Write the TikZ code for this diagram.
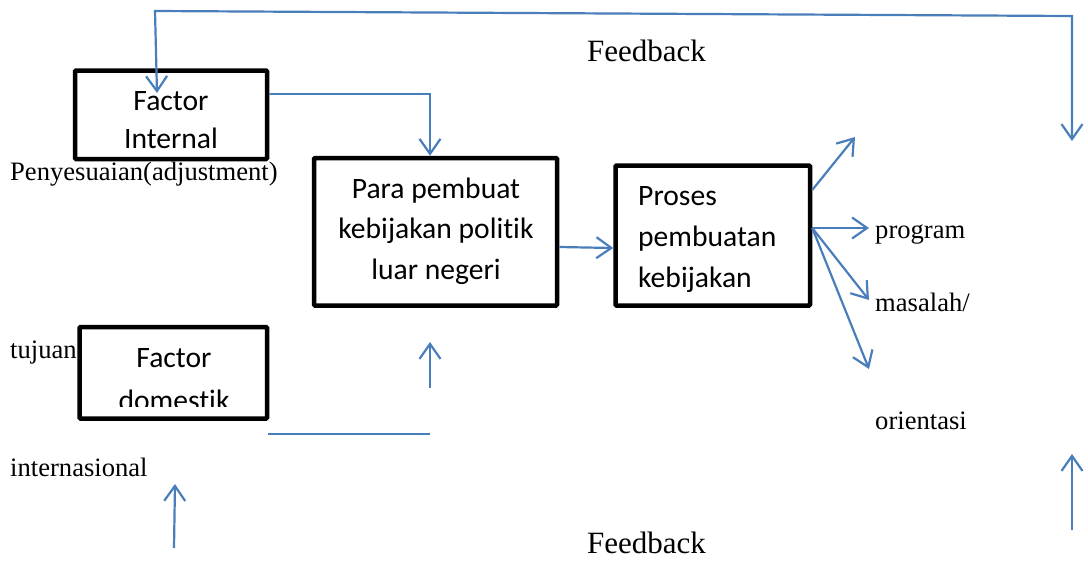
\documentclass[tikz,border=0pt]{standalone}
\usepackage{fontspec}
\setmainfont{Liberation Serif}
\newfontfamily\calibfont[Ligatures={NoCommon}]{Carlito}
\usetikzlibrary{arrows.meta}
\definecolor{wblue}{RGB}{74,126,187}
\tikzset{
  boxnode/.style={draw=black, line width=4.5pt, inner sep=0pt, rounded corners=1pt},
  boxtext/.style={font=\calibfont\fontsize{29.6}{41}\selectfont, inner sep=0pt, anchor=base},
  boxtextl/.style={font=\calibfont\fontsize{29.6}{41}\selectfont, inner sep=0pt, anchor=base west},
  lbl/.style={font=\fontsize{26.6}{30}\selectfont, inner sep=0pt, anchor=base west},
  fb/.style={font=\fontsize{31}{36}\selectfont, inner sep=0pt, anchor=base west},
  conn/.style={draw=wblue, line width=2.2pt},
  arr/.style={conn, -{Straight Barb[length=15pt,width=21pt]}},
  dbl/.style={conn, {Straight Barb[length=15pt,width=21pt]}-{Straight Barb[length=15pt,width=21pt]}},
}
\begin{document}
\begin{tikzpicture}[x=1pt,y=-1pt]
\useasboundingbox (0,0) rectangle (1088,574);

% boxes
\node[boxnode, minimum width=192pt, minimum height=88.5pt] (b1) at (171,114.75) {};
\node[boxnode, minimum width=243pt, minimum height=147.5pt] (b2) at (435.5,231.75) {};
\node[boxnode, minimum width=194.5pt, minimum height=140pt] (b3) at (712.75,235.5) {};
\node[boxnode, minimum width=187.5pt, minimum height=91.5pt] (b4) at (173.25,372.75) {};

% box texts
\node[boxtext] (t1a) at (171,110) {Factor};
\node[boxtext] (t1b) at (171,148) {Internal};
\node[boxtext] (t2a) at (436,198) {Para pembuat};
\node[boxtext] (t2b) at (436,238) {kebijakan politik};
\node[boxtext] (t2c) at (436,279) {luar negeri};
\node[boxtextl] (t3a) at (638,205) {Proses};
\node[boxtextl] (t3b) at (638,246) {pembuatan};
\node[boxtextl] (t3c) at (638,287) {kebijakan};
\node[boxtext] (t4a) at (174,367) {Factor};
\begin{scope}
  \clip (82,330) rectangle (265,406);
  \node[boxtext] (t4b) at (174,410) {domestik};
\end{scope}

% free labels
\node[lbl] (pen) at (10,180) {Penyesuaian(adjustment)};
\node[lbl] (tuj) at (10,358) {tujuan};
\node[lbl] (int) at (10,476) {internasional};
\node[lbl] (prog) at (875,238) {program};
\node[lbl] (mas) at (875,311) {masalah/};
\node[lbl] (ori) at (875,429) {orientasi};
\node[fb] (fbtop) at (587,61) {Feedback};
\node[fb] (fbbot) at (587,553) {Feedback};

% coordinates
\coordinate (fbtip1) at (157,93);
\coordinate (fbc1) at (155,11);
\coordinate (fbc2) at (1072,16);
\coordinate (fbtip2) at (1072,141);
\coordinate (o1) at (855,137);
\coordinate (o2) at (869,228);
\coordinate (o3) at (869,300);
\coordinate (o4) at (869,369);
\coordinate (h1) at (268,434);
\coordinate (h2) at (430,434);
\coordinate (u1s) at (430,388);
\coordinate (u1e) at (430,342);
\coordinate (u2s) at (174,548);
\coordinate (u2e) at (175,484);
\coordinate (u3s) at (1072,530);
\coordinate (u3e) at (1072,454);

% connectors
\draw[dbl] (fbtip1) -- (fbc1) -- (fbc2) -- (fbtip2);
\draw[arr] ([yshift=20.75pt]b1.east) -| ([xshift=-5.5pt]b2.north);
\draw[arr] ([yshift=-15.25pt]b2.east) -- ([yshift=-12.5pt]b3.west);
\draw[arr] ([yshift=45.5pt]b3.east) -- (o1);
\draw[arr] ([yshift=7.5pt]b3.east) -- (o2);
\draw[arr] ([yshift=7.5pt]b3.east) -- (o3);
\draw[arr] ([yshift=7.5pt]b3.east) -- (o4);
\draw[conn] (h1) -- (h2);
\draw[arr] (u1s) -- (u1e);
\draw[arr] (u2s) -- (u2e);
\draw[arr] (u3s) -- (u3e);
\end{tikzpicture}
\end{document}
